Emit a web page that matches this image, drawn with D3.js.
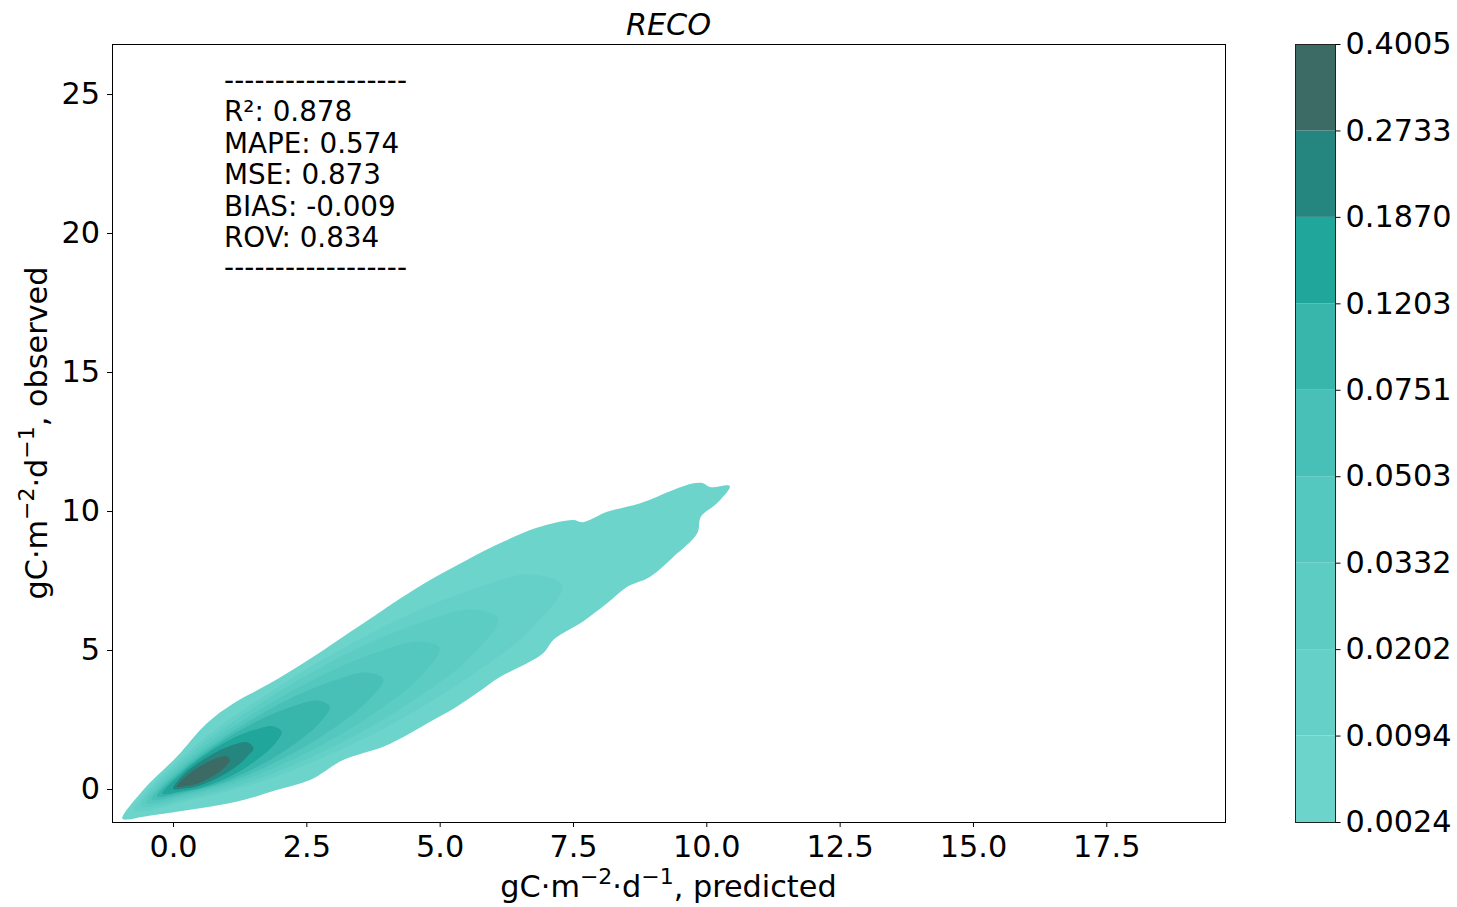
<!DOCTYPE html>
<html>
<head>
<meta charset="utf-8">
<script src="https://cdn.jsdelivr.net/npm/d3@7"></script>
<style>
  body { margin: 0; background: #fff; }
  text { font-family: "DejaVu Sans", sans-serif; fill: #000; }
</style>
</head>
<body>
<svg id="chart" width="1457" height="907"></svg>
<script>
// contour levels (colorbar) and band colours, low -> high
const levels = [0.0024, 0.0094, 0.0202, 0.0332, 0.0503, 0.0751, 0.1203, 0.1870, 0.2733, 0.4005];
const bandColors = ["#6dd4cb", "#65d0c7", "#5dccc3", "#54c7be", "#49c0b7", "#38b6ac", "#21a69c", "#25867f", "#3c6b66"];

const xTicks = [0, 2.5, 5, 7.5, 10, 12.5, 15, 17.5];
const yTicks = [0, 5, 10, 15, 20, 25];

const stats = ["R²: 0.878", "MAPE: 0.574", "MSE: 0.873", "BIAS: -0.009", "ROV: 0.834"];

// contour outlines, [predicted, observed]
const contour0024 = [
  [-0.95, -1.07], [-0.56, -0.04], [0.07, 1.16], [0.63, 2.36], [1.13, 3.08], [1.82, 3.80],
  [2.44, 4.52], [3.19, 5.48], [3.94, 6.44], [4.26, 6.85], [4.82, 7.52], [5.51, 8.24],
  [6.20, 8.90], [6.82, 9.40], [7.50, 9.68], [7.69, 9.60], [8.14, 9.97], [8.76, 10.28],
  [9.38, 10.76], [9.76, 11.00], [9.94, 11.00], [10.07, 10.86], [10.44, 10.90],
  [10.20, 10.28], [9.90, 9.80], [9.83, 9.20], [9.38, 8.35], [8.94, 7.63], [8.51, 7.27],
  [8.14, 6.68], [7.63, 5.95], [7.31, 5.60], [7.13, 5.36], [6.94, 4.88], [6.64, 4.52],
  [6.13, 4.03], [5.70, 3.45], [5.32, 2.96], [4.88, 2.48], [4.44, 2.00], [3.94, 1.52],
  [3.19, 1.04], [2.57, 0.32], [1.94, -0.04], [1.32, -0.40], [0.69, -0.64], [0.07, -0.82],
  [-0.56, -1.00], [-0.85, -1.10]
];
const contour0094 = [
  [-0.72, -0.76], [0.33, 1.41], [1.97, 3.67], [4.02, 5.91], [5.66, 7.21], [6.69, 7.72], [7.30, 7.33],
  [6.69, 5.72], [5.66, 4.17], [4.02, 2.25], [1.97, 0.48], [0.33, -0.40]
];
const contour0202 = [
  [-0.60, -0.60], [0.28, 1.19], [1.65, 3.09], [3.36, 4.96], [4.73, 6.04], [5.59, 6.46], [6.10, 6.13],
  [5.59, 4.78], [4.73, 3.48], [3.36, 1.87], [1.65, 0.40], [0.28, -0.33]
];
const contour0332 = [
  [-0.50, -0.50], [0.24, 0.99], [1.36, 2.53], [2.76, 4.06], [3.88, 4.95], [4.58, 5.30], [5.00, 5.08],
  [4.58, 3.93], [3.88, 2.87], [2.76, 1.56], [1.36, 0.35], [0.24, -0.25]
];
const contour0503 = [
  [-0.40, -0.38], [0.21, 0.82], [1.09, 2.04], [2.18, 3.24], [3.06, 3.93], [3.61, 4.19], [3.94, 3.95],
  [3.61, 3.09], [3.06, 2.25], [2.18, 1.21], [1.09, 0.28], [0.21, -0.18]
];
const contour0751 = [
  [-0.30, -0.27], [0.19, 0.69], [0.83, 1.61], [1.64, 2.50], [2.29, 3.00], [2.70, 3.18], [2.94, 2.96],
  [2.70, 2.28], [2.29, 1.64], [1.64, 0.86], [0.83, 0.18], [0.19, -0.12]
];
const contour1203 = [
  [-0.20, -0.17], [0.15, 0.55], [0.60, 1.23], [1.15, 1.85], [1.60, 2.17], [1.87, 2.26], [2.04, 2.06],
  [1.87, 1.54], [1.60, 1.09], [1.15, 0.53], [0.60, 0.09], [0.15, -0.09]
];
const contour1870 = [
  [0.00, 0.01], [0.18, 0.49], [0.50, 0.97], [0.89, 1.41], [1.20, 1.63], [1.39, 1.68], [1.51, 1.47],
  [1.39, 1.16], [1.20, 0.83], [0.89, 0.45], [0.50, 0.13], [0.18, 0.01]
];
const contour2733 = [
  [0.07, 0.08], [0.22, 0.41], [0.42, 0.71], [0.67, 0.99], [0.87, 1.14], [1.00, 1.18], [1.07, 1.05],
  [1.00, 0.84], [0.87, 0.62], [0.67, 0.38], [0.42, 0.17], [0.22, 0.10]
];

const contourShapes = [contour0024, contour0094, contour0202, contour0332, contour0503,
                       contour0751, contour1203, contour1870, contour2733];

const svg = d3.select("#chart");
const plot = {left: 112, right: 1225, top: 44, bottom: 822};
const fontSize = 30.3;    // ticks, labels, title
const statSize = 27.8;    // text box

const x = d3.scaleLinear().domain([-1.144, 19.726]).range([plot.left, plot.right]);
const y = d3.scaleLinear().domain([-1.187, 26.80]).range([plot.bottom, plot.top]);

svg.append("clipPath").attr("id", "clip")
  .append("rect")
    .attr("x", plot.left).attr("y", plot.top)
    .attr("width", plot.right - plot.left).attr("height", plot.bottom - plot.top);

// filled contours, outer level first
const line = d3.line()
  .x(d => x(d[0]))
  .y(d => y(d[1]))
  .curve(d3.curveCatmullRomClosed.alpha(0.5));

svg.append("g")
    .attr("clip-path", "url(#clip)")
  .selectAll("path")
  .data(contourShapes)
  .enter()
  .append("path")
    .attr("d", d => line(d))
    .attr("fill", (d, i) => bandColors[i]);

// axes
const xAxis = svg.append("g")
    .attr("transform", "translate(0," + plot.bottom + ")")
    .call(d3.axisBottom(x).tickValues(xTicks).tickFormat(d3.format(".1f")).tickSize(5).tickPadding(8));
const yAxis = svg.append("g")
    .attr("transform", "translate(" + plot.left + ",0)")
    .call(d3.axisLeft(y).tickValues(yTicks).tickFormat(d3.format("d")).tickSize(5).tickPadding(7));

[xAxis, yAxis].forEach(g => {
  g.select(".domain").remove();
  g.selectAll(".tick line").attr("stroke", "#000").attr("stroke-width", 1);
  g.selectAll(".tick text").attr("font-size", fontSize).attr("font-family", "DejaVu Sans").attr("fill", "#000");
});

svg.append("rect")
    .attr("x", plot.left + 0.5).attr("y", plot.top + 0.5)
    .attr("width", plot.right - plot.left).attr("height", plot.bottom - plot.top)
    .attr("fill", "none").attr("stroke", "#000").attr("stroke-width", 1);

// title
svg.append("text")
    .attr("x", (plot.left + plot.right) / 2).attr("y", 35)
    .attr("text-anchor", "middle")
    .attr("font-size", fontSize)
    .attr("font-style", "italic")
    .text("RECO");

// unit label with superscripts
function unitLabel(sel, tail) {
  sel.append("tspan").text("gC·m");
  sel.append("tspan").attr("font-size", 22).attr("dy", -13).text("−2");
  sel.append("tspan").attr("dy", 13).text("·d");
  sel.append("tspan").attr("font-size", 22).attr("dy", -13).text("−1");
  sel.append("tspan").attr("dy", 13).text(tail);
}

svg.append("text")
    .attr("x", (plot.left + plot.right) / 2).attr("y", 897)
    .attr("text-anchor", "middle")
    .attr("font-size", fontSize)
    .call(unitLabel, ", predicted");

svg.append("text")
    .attr("transform", "translate(47," + (plot.top + plot.bottom) / 2 + ") rotate(-90)")
    .attr("text-anchor", "middle")
    .attr("font-size", fontSize)
    .call(unitLabel, ", observed");

// stats box text
const statLines = ["-".repeat(18)].concat(stats, ["-".repeat(18)]);
const statBase = [89.5, 121, 152.5, 184, 215.5, 247, 277];
svg.append("g")
  .selectAll("text")
  .data(statLines)
  .enter()
  .append("text")
    .attr("x", 224)
    .attr("y", (d, i) => statBase[i])
    .attr("font-size", statSize)
    .attr("textLength", d => d[0] === "-" && d.length > 5 ? 183 : null)
    .attr("lengthAdjust", "spacing")
    .text(d => d);

// colorbar
const cb = {left: 1295, right: 1335};
const cbY = d3.scaleLinear().domain([0, levels.length - 1]).range([plot.bottom, plot.top]);

svg.append("g")
  .selectAll("rect")
  .data(bandColors)
  .enter()
  .append("rect")
    .attr("x", cb.left)
    .attr("y", (d, i) => cbY(i + 1))
    .attr("width", cb.right - cb.left)
    .attr("height", (d, i) => cbY(i) - cbY(i + 1))
    .attr("fill", d => d);

svg.append("rect")
    .attr("x", cb.left + 0.5).attr("y", plot.top + 0.5)
    .attr("width", cb.right - cb.left).attr("height", plot.bottom - plot.top)
    .attr("fill", "none").attr("stroke", "#222").attr("stroke-width", 1);

const cbAxis = svg.append("g")
    .attr("transform", "translate(" + (cb.right + 0.5) + ",0)")
    .call(d3.axisRight(cbY).tickValues(d3.range(levels.length))
      .tickFormat(i => levels[i].toFixed(4)).tickSize(5).tickPadding(5));
cbAxis.select(".domain").remove();
cbAxis.selectAll(".tick line").attr("stroke", "#000");
cbAxis.selectAll(".tick text").attr("font-size", fontSize).attr("font-family", "DejaVu Sans").attr("fill", "#000");
</script>
</body>
</html>
